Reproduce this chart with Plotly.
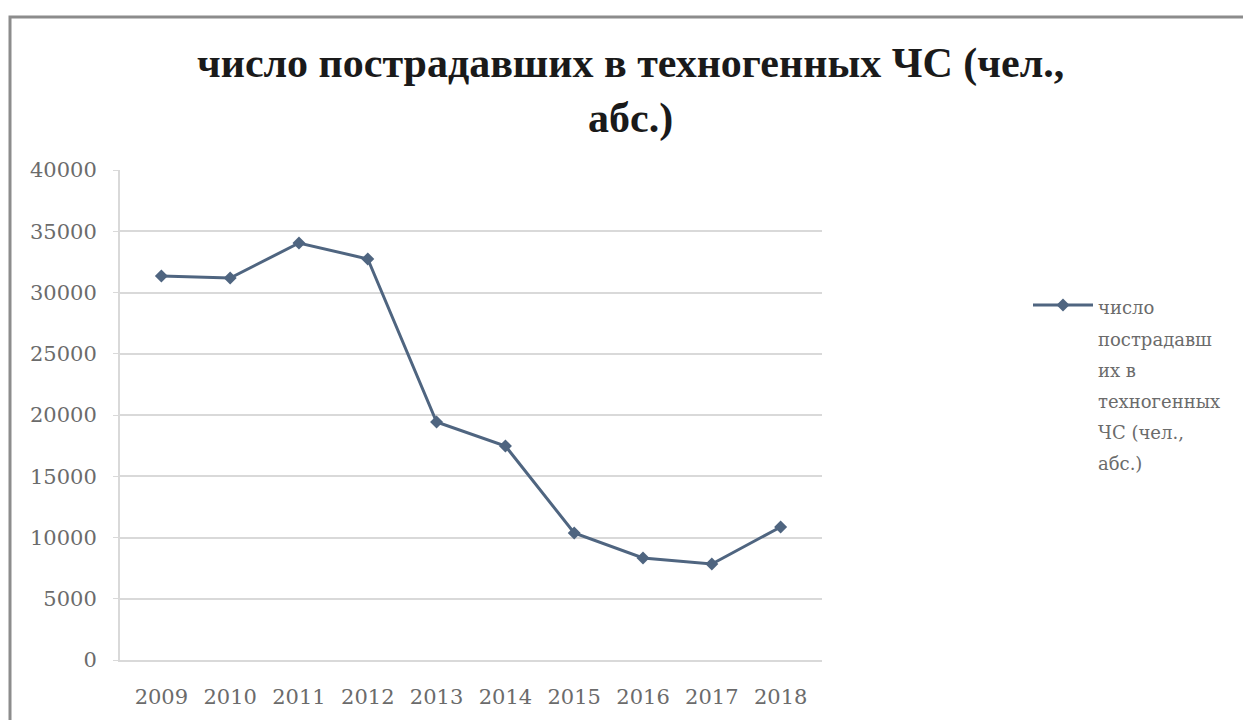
import plotly.graph_objects as go

# Число пострадавших в техногенных ЧС по годам
years = ["2009", "2010", "2011", "2012", "2013", "2014", "2015", "2016", "2017", "2018"]
victims = [31350, 31180, 34040, 32740, 19430, 17470, 10370, 8330, 7840, 10860]
y_ticks = [0, 5000, 10000, 15000, 20000, 25000, 30000, 35000, 40000]

title_text = "число пострадавших в техногенных ЧС (чел.,<br>абс.)"
legend_lines = ["число", "пострадавш", "их в", "техногенных", "ЧС (чел.,", "абс.)"]

W, H = 1243, 720
ML, MR, MT, MB = 120, 421, 170, 60
plot_w = W - ML - MR
plot_h = H - MT - MB


def px_to_paper_x(px):
    return (px - ML) / plot_w


def px_to_paper_y(py):
    return (H - MB - py) / plot_h


line_color = "#4f6580"
text_color = "#6b6b6b"
serif = "Liberation Serif"
label_font = "DejaVu Serif"

fig = go.Figure()
fig.add_trace(
    go.Scatter(
        x=years,
        y=victims,
        mode="lines+markers",
        name="<br>".join(f"<span style='font-size:18px'>{s}</span>" for s in legend_lines),
        line=dict(color=line_color, width=3),
        marker=dict(symbol="diamond", size=10, color=line_color),
    )
)

fig.add_annotation(
    text=title_text,
    xref="paper",
    yref="paper",
    x=px_to_paper_x(630),
    y=px_to_paper_y(38),
    xanchor="center",
    yanchor="top",
    showarrow=False,
    align="center",
    font=dict(family=serif, size=42, color="#1a1a1a", weight="bold"),
)

fig.update_layout(
    width=W,
    height=H,
    margin=dict(l=ML, r=MR, t=MT, b=MB),
    paper_bgcolor="white",
    plot_bgcolor="white",
    font=dict(family=label_font, color=text_color),
    showlegend=True,
    legend=dict(
        x=px_to_paper_x(1028),
        y=px_to_paper_y(283),
        xanchor="left",
        yanchor="top",
        valign="top",
        font=dict(size=24, color=text_color),
        bgcolor="rgba(0,0,0,0)",
        itemwidth=60,
    ),
    xaxis=dict(
        type="category",
        showgrid=False,
        showline=True,
        linecolor="#d9d9d9",
        linewidth=2,
        ticks="",
        tickfont=dict(size=21, color=text_color),
        ticklabelstandoff=17,
    ),
    yaxis=dict(
        range=[0, 40000],
        tickvals=y_ticks,
        ticktext=[str(v) for v in y_ticks],
        showgrid=True,
        gridcolor="#d9d9d9",
        gridwidth=2,
        showline=True,
        linecolor="#d9d9d9",
        linewidth=2,
        ticks="outside",
        ticklen=5,
        tickcolor="#d9d9d9",
        tickfont=dict(size=21, color=text_color),
        ticklabelstandoff=12,
        zeroline=False,
    ),
    shapes=[
        dict(
            type="rect",
            xref="paper",
            yref="paper",
            x0=px_to_paper_x(10),
            x1=px_to_paper_x(1260),
            y0=px_to_paper_y(740),
            y1=px_to_paper_y(17),
            line=dict(color="#8c8c8c", width=3),
            fillcolor="rgba(0,0,0,0)",
            layer="below",
        )
    ],
)

fig.write_html("out.html")
